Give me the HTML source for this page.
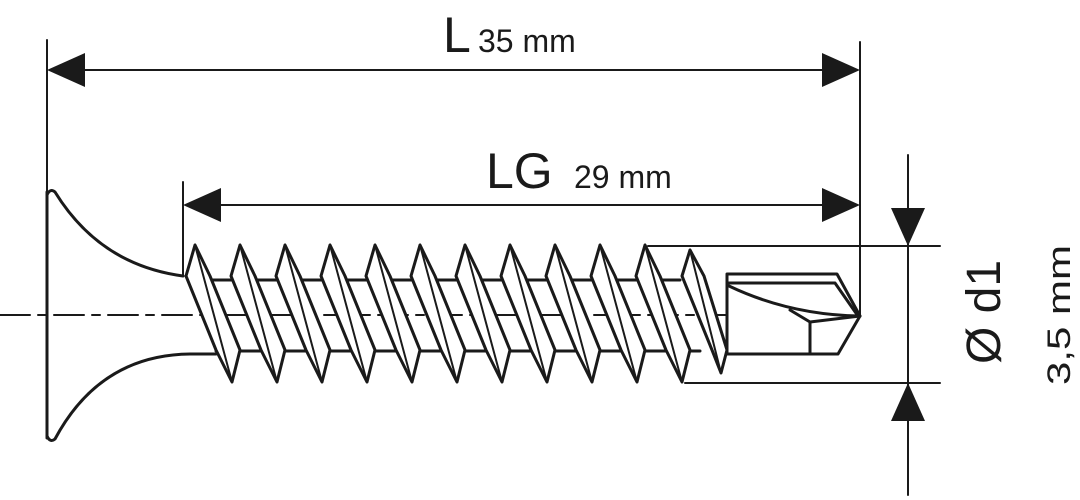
<!DOCTYPE html>
<html><head><style>body{margin:0;background:#fff}svg{display:block}</style></head><body>
<svg width="1080" height="500" viewBox="0 0 1080 500" xmlns="http://www.w3.org/2000/svg" font-family="Liberation Sans, sans-serif">
<g stroke="#1a1a1a" fill="none" stroke-linecap="round" stroke-linejoin="round">
<line x1="0" y1="315" x2="860" y2="315" stroke-width="2" stroke-dasharray="30,8,8,8"/>
<g stroke-width="2">
<line x1="47" y1="40" x2="47" y2="192"/>
<line x1="860" y1="42" x2="860" y2="316"/>
<line x1="60" y1="70" x2="850" y2="70"/>
<line x1="183" y1="182" x2="183" y2="276"/>
<line x1="195" y1="205" x2="850" y2="205"/>
<line x1="908" y1="155" x2="908" y2="495"/>
<line x1="648" y1="246" x2="940" y2="246"/>
<line x1="685" y1="383" x2="940" y2="383"/>
</g>
<g stroke-width="3">
<path d="M47 192 L47 438"/>
<path d="M47 195 Q50 188 55 192 Q100 265 183 276"/>
<path d="M47 436 Q50 443 55 439 Q100 355 190 354 L216 354"/>
<line x1="210" y1="280" x2="680" y2="280"/>
<line x1="216" y1="351" x2="700" y2="351"/>
</g>
<g stroke-width="3" fill="#fff">
<path d="M195 245 L186 276 L216 350 L232 382 L240 350 L210 276 Z"/>
<path d="M240 245 L231 276 L261 350 L277 382 L285 350 L255 276 Z"/>
<path d="M285 245 L276 276 L306 350 L322 382 L330 350 L300 276 Z"/>
<path d="M330 245 L321 276 L351 350 L367 382 L375 350 L345 276 Z"/>
<path d="M375 245 L366 276 L396 350 L412 382 L420 350 L390 276 Z"/>
<path d="M420 245 L411 276 L441 350 L457 382 L465 350 L435 276 Z"/>
<path d="M465 245 L456 276 L486 350 L502 382 L510 350 L480 276 Z"/>
<path d="M510 245 L501 276 L531 350 L547 382 L555 350 L525 276 Z"/>
<path d="M555 245 L546 276 L576 350 L592 382 L600 350 L570 276 Z"/>
<path d="M600 245 L591 276 L621 350 L637 382 L645 350 L615 276 Z"/>
<path d="M645 245 L636 276 L666 350 L682 382 L690 350 L660 276 Z"/>
<path d="M690 250 L682 276 L712 350 L721 373 L727 350 L704 276 Z"/>
</g>
<g stroke-width="2">
<path d="M195 245 L232 382 M240 245 L277 382 M285 245 L322 382 M330 245 L367 382 M375 245 L412 382 M420 245 L457 382 M465 245 L502 382 M510 245 L547 382 M555 245 L592 382 M600 245 L637 382 M645 245 L682 382 M690 250 L721 373"/>
</g>
<g stroke-width="3" fill="#fff">
<path d="M727 274 L837 274 L860 316 L838 354 L727 354 Z"/>
<path d="M727 283 L835 283 L858 316" fill="none"/>
<path d="M729 286 Q790 315 860 316" fill="none"/>
<path d="M790 310 L810 322 L860 316 M810 322 L810 354" fill="none"/>
</g>
</g>
<g fill="#1a1a1a">
<polygon points="47,70 85,53 85,87"/>
<polygon points="860,70 822,53 822,87"/>
<polygon points="183,205 221,188 221,222"/>
<polygon points="860,205 822,188 822,222"/>
<polygon points="908,246 891,208 925,208"/>
<polygon points="908,383 891,421 925,421"/>
</g>
<g fill="#1a1a1a">
<text x="443" y="52" font-size="50">L</text>
<text x="478" y="52" font-size="32">35 mm</text>
<text x="486" y="188" font-size="50">LG</text>
<text x="574" y="188" font-size="32">29 mm</text>
<text transform="translate(1000,312) rotate(-90)" text-anchor="middle" font-size="48">Ø d1</text>
<text transform="translate(1070,315) rotate(-90)" text-anchor="middle" font-size="32" textLength="140" lengthAdjust="spacingAndGlyphs">3,5 mm</text>
</g>
</svg>
</body></html>
